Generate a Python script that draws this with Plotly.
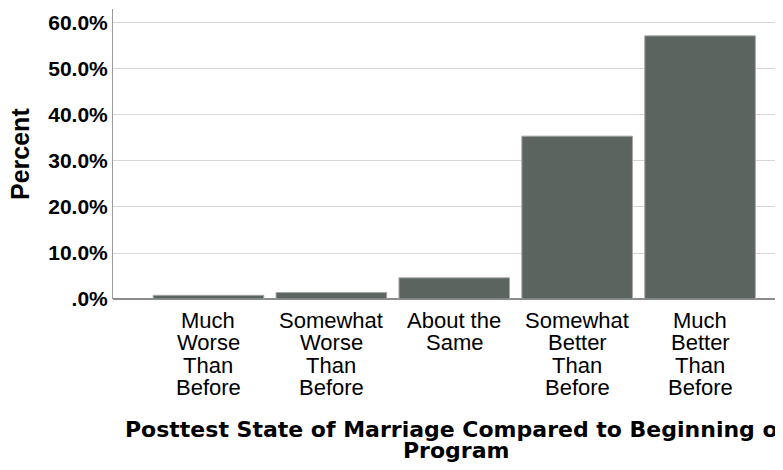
import plotly.graph_objects as go

# ---- data ----
categories = ["Much Worse Than Before", "Somewhat Worse Than Before", "About the Same",
              "Somewhat Better Than Before", "Much Better Than Before"]
label_lines = [["Much", "Worse", "Than", "Before"],
               ["Somewhat", "Worse", "Than", "Before"],
               ["About the", "Same"],
               ["Somewhat", "Better", "Than", "Before"],
               ["Much", "Better", "Than", "Before"]]
percents = [0.8, 1.4, 4.6, 35.4, 57.2]
y_tickvals = [0, 10, 20, 30, 40, 50, 60]
y_ticktext = [".0%", "10.0%", "20.0%", "30.0%", "40.0%", "50.0%", "60.0%"]
x_title_lines = ["Posttest State of Marriage Compared to Beginning of", "Program"]
y_title = "Percent"

FONT = "Liberation Sans, Arial, sans-serif"
TITLE_FONT = "DejaVu Sans, Liberation Sans, Arial, sans-serif"
OFF = 8  # page body margin in the browser
W, H = 783 - OFF, 470 - OFF
ML, MR, MT, MB = 113 - OFF, 0, 9 - OFF, 171
plot_w = W - ML - MR

fig = go.Figure()
fig.add_trace(go.Bar(
    x=list(range(len(categories))), y=percents, width=0.9,
    marker=dict(color="#5c6460", line=dict(color="#a3a7a4", width=1)),
    hoverinfo="skip",
))

fig.update_layout(
    width=W, height=H,
    margin=dict(l=ML, r=MR, t=MT, b=MB, pad=0),
    paper_bgcolor="white", plot_bgcolor="white",
    showlegend=False,
    font=dict(family=FONT, color="black"),
    xaxis=dict(range=[-0.777, 4.675], showgrid=False, zeroline=False,
               tickvals=list(range(len(categories))), ticktext=[""] * len(categories),
               ticks="", showline=False, fixedrange=True),
    yaxis=dict(range=[0, 63.04], tickvals=y_tickvals, ticktext=y_ticktext,
               showgrid=True, gridcolor="#d6d6d6", gridwidth=1,
               zeroline=True, zerolinecolor="#8c8c8c", zerolinewidth=1.5,
               showline=True, linecolor="#9a9a9a", linewidth=1,
               ticks="", ticklabelstandoff=0,
               tickfont=dict(family=FONT, size=21, color="black", weight="bold"),
               fixedrange=True),
)

annotations = []
# x category labels, one annotation per line for tight line spacing
for i, lines in enumerate(label_lines):
    for j, line in enumerate(lines):
        annotations.append(dict(
            x=i, xref="x", y=0, yref="paper", yanchor="middle", xanchor="center",
            yshift=-(21 + 22.5 * j), text=line, showarrow=False,
            font=dict(family=FONT, size=22, color="black")))
# x axis title (two lines)
for j, line in enumerate(x_title_lines):
    annotations.append(dict(
        x=(456 - 113) / plot_w, xref="paper", y=0, yref="paper",
        yanchor="middle", xanchor="center", yshift=-(130 + 21.5 * j),
        text="<b>" + line + "</b>", showarrow=False,
        font=dict(family=TITLE_FONT, size=22, color="black")))
# y axis title
annotations.append(dict(
    x=(20 - 113) / plot_w, xref="paper", y=0.5, yref="paper",
    xanchor="center", yanchor="middle", textangle=-90,
    text="<b>" + y_title + "</b>", showarrow=False,
    font=dict(family=FONT, size=25, color="black")))
fig.update_layout(annotations=annotations)

fig.write_html("out.html")
